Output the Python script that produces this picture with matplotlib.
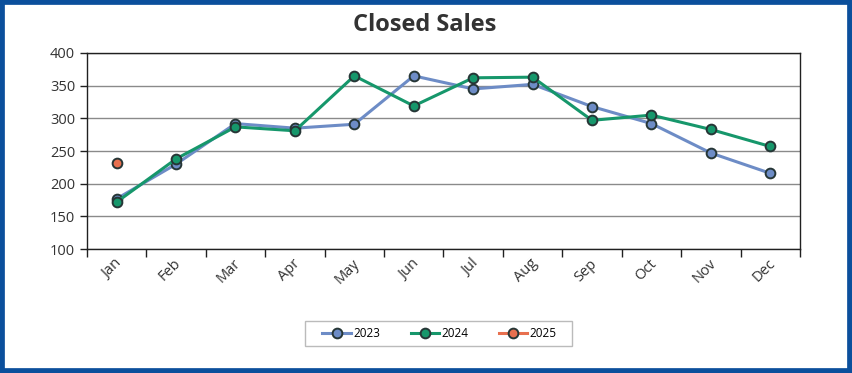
import matplotlib.pyplot as plt
from matplotlib.patches import Rectangle
from matplotlib.transforms import ScaledTranslation

# chart data
months = ["Jan", "Feb", "Mar", "Apr", "May", "Jun",
          "Jul", "Aug", "Sep", "Oct", "Nov", "Dec"]
sales_2023 = [177, 230, 292, 285, 291, 365, 345, 352, 318, 292, 247, 216]
sales_2024 = [172, 238, 287, 281, 365, 319, 362, 363, 297, 305, 283, 257]
sales_2025 = [232]

plt.rcParams['font.family'] = ['Open Sans', 'DejaVu Sans']

fig = plt.figure(figsize=(8.52, 3.73), dpi=100)
ax = fig.add_axes([0.102, 0.332, 0.837, 0.526])

x = list(range(len(months)))
marker_style = dict(marker='o', markersize=7, markeredgewidth=1.4,
                    markeredgecolor='#263636', linewidth=2.2)

ax.plot(x, sales_2023, color='#6d8cc6', markerfacecolor='#6d8cc6',
        label='2023', **marker_style)
ax.plot(x, sales_2024, color='#16976b', markerfacecolor='#16976b',
        label='2024', **marker_style)
ax.plot(x[:len(sales_2025)], sales_2025, color='#e8704f',
        markerfacecolor='#e8704f', label='2025', **marker_style)

ax.set_xlim(-0.5, len(months) - 0.5)
ax.set_ylim(100, 400)
ax.set_yticks(range(100, 401, 50))
ax.grid(axis='y', color='#8a8a8a', linewidth=1)
ax.set_axisbelow(True)

# category labels centred, tick marks between categories
ax.set_xticks(x)
ax.set_xticklabels(months, rotation=45, ha='right', fontsize=10.5,
                   color='#333333')
ax.tick_params(axis='x', length=0, pad=5)
shift = ScaledTranslation(6 / 72, 0, fig.dpi_scale_trans)
for lbl in ax.get_xticklabels():
    lbl.set_transform(lbl.get_transform() + shift)
ax.set_xticks([i - 0.5 for i in range(len(months) + 1)], minor=True)
ax.tick_params(axis='x', which='minor', length=6, width=1, color='#202020')
ax.tick_params(axis='y', length=5, width=1, color='#202020',
               labelsize=10.5, labelcolor='#333333')

for side in ['left', 'top', 'right', 'bottom']:
    ax.spines[side].set_color('#202020')
    ax.spines[side].set_linewidth(1)

fig.text(0.499, 0.933, 'Closed Sales', ha='center', va='center',
         fontsize=17, fontweight='bold', color='#333333')

leg = fig.legend(loc='center', bbox_to_anchor=(0.516, 0.106), ncol=3,
                 fontsize=8.5, frameon=False, handlelength=2.4,
                 columnspacing=2.6, handletextpad=0.2)

# legend box is wider than the entries, so draw it separately
fig.patches.append(Rectangle((305 / 852, 1 - 346 / 373), 267 / 852,
                             25 / 373, transform=fig.transFigure,
                             fill=False, edgecolor='#bbbbbb', linewidth=1))

# blue frame around the whole chart
fig.patches.append(Rectangle((0, 0), 1, 1, transform=fig.transFigure,
                             fill=False, edgecolor='#0b4f9c',
                             linewidth=7, zorder=10))

fig.savefig('out.png', dpi=100)
